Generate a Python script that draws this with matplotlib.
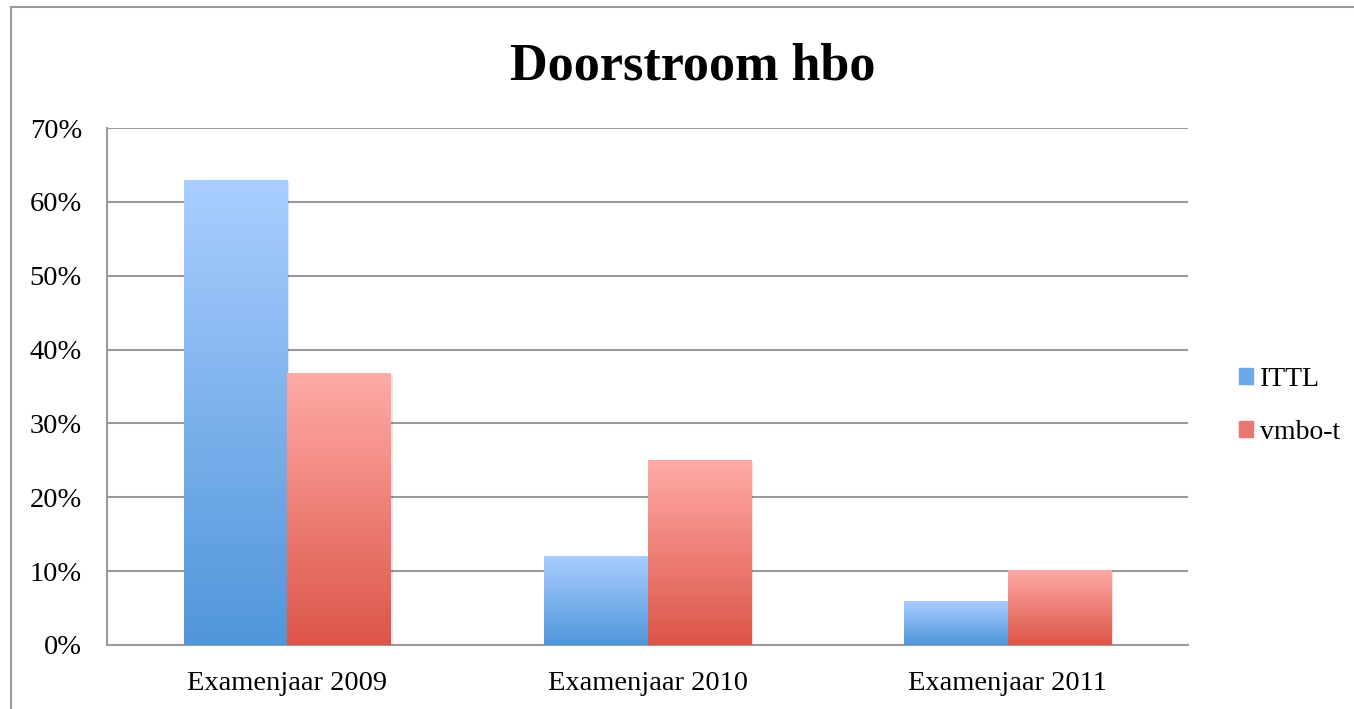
# Doorstroom hbo - grouped bar chart, Excel style with gradient bars
import numpy as np
import matplotlib.pyplot as plt
from matplotlib.colors import LinearSegmentedColormap
from matplotlib.lines import Line2D
from matplotlib.patches import Rectangle

# data
categories = ['Examenjaar 2009', 'Examenjaar 2010', 'Examenjaar 2011']
ittl = [63.0, 12.1, 6.0]
vmbo_t = [36.8, 25.0, 10.2]
series_names = ['ITTL', 'vmbo-t']
y_ticks = [0, 10, 20, 30, 40, 50, 60, 70]

serif = ['Liberation Serif', 'DejaVu Serif']
blue = ('#5096DA', '#AACEFF')
red = ('#DC5548', '#FFABA7')

fig = plt.figure(figsize=(13.54, 7.09), dpi=100)
ax = fig.add_axes([107 / 1354, 1 - 645 / 709, 1081 / 1354, 517 / 709])

# outer chart border (left and top visible)
fig.add_artist(Line2D([11 / 1354, 11 / 1354], [0, 1 - 7 / 709], color='#9a9a9a', lw=1.5))
fig.add_artist(Line2D([11 / 1354, 1], [1 - 7 / 709, 1 - 7 / 709], color='#9a9a9a', lw=1.5))

x = np.arange(len(categories))
width = 0.287


def gradient_bars(xs, vals, colors):
    cmap = LinearSegmentedColormap.from_list('g', [colors[0], colors[1]])
    grad = np.linspace(0, 1, 256).reshape(-1, 1)
    bars = ax.bar(xs, vals, width, color=colors[0], lw=0, zorder=3)
    for b in bars:
        x0, y0 = b.get_x(), b.get_y()
        w, h = b.get_width(), b.get_height()
        # soft shadow
        ax.add_patch(Rectangle((x0 + 0.006, y0 - 0.25), w, h, color='#000000',
                               alpha=0.10, lw=0, zorder=2))
        im = ax.imshow(grad, cmap=cmap, aspect='auto', origin='lower',
                       extent=[x0, x0 + w, y0, y0 + h], zorder=3)
        im.set_clip_path(b)
    return bars


gradient_bars(x - width / 2, ittl, blue)
gradient_bars(x + width / 2, vmbo_t, red)

ax.set_xlim(-0.5, 2.5)
ax.set_ylim(0, 70)
ax.set_yticks(y_ticks)
ax.set_yticklabels([f'{t}%' for t in y_ticks], fontsize=20.5, family=serif)
ax.set_xticks(x)
ax.set_xticklabels(categories, fontsize=20.5, family=serif)
ax.tick_params(axis='both', length=0)
ax.tick_params(axis='y', pad=18)
ax.tick_params(axis='x', pad=19)
ax.yaxis.grid(True, color='#9a9a9a', lw=1.5, zorder=0)
ax.set_axisbelow(True)
for side in ['top', 'right']:
    ax.spines[side].set_visible(False)
for side in ['left', 'bottom']:
    ax.spines[side].set_color('#9a9a9a')
    ax.spines[side].set_linewidth(1.5)

fig.text(693 / 1354, 1 - 66 / 709, 'Doorstroom hbo', ha='center', va='center',
         fontsize=37.5, fontweight='bold', family=serif)

# legend
handles = [Rectangle((0, 0), 1, 1, color='#6FA8E8'), Rectangle((0, 0), 1, 1, color='#EA7872')]
fig.legend(handles, series_names, loc='center left',
           bbox_to_anchor=(1214 / 1354, 1 - 406 / 709), frameon=False,
           prop={'family': serif, 'size': 20}, handlelength=0.5, handleheight=0.5,
           handletextpad=0.25, labelspacing=1.0)

plt.savefig('out.png', dpi=100)
